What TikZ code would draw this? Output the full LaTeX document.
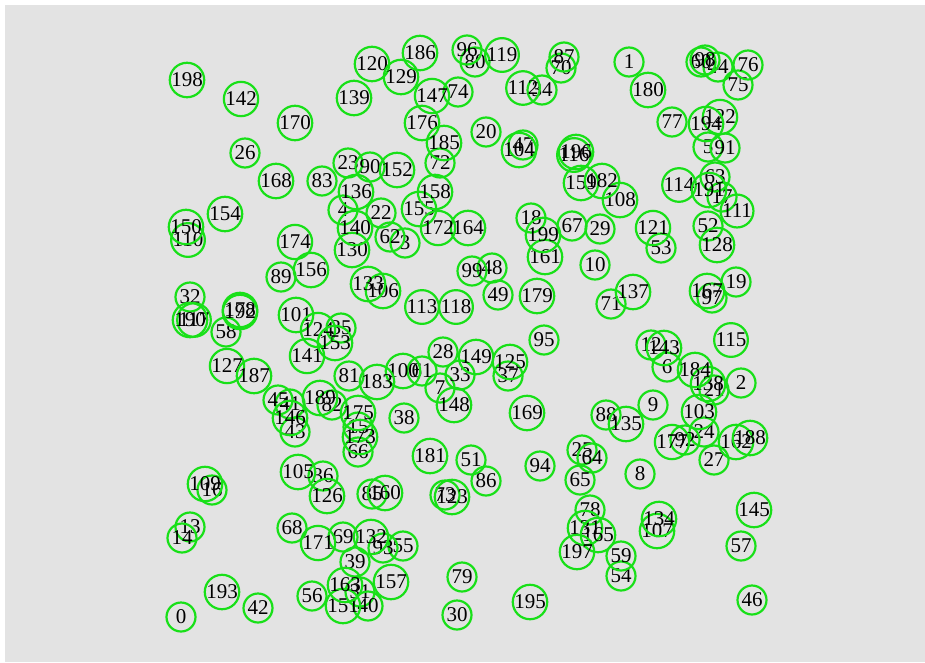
\documentclass[tikz,border=0pt]{standalone}
\usepackage{fontspec}
\setmainfont{Liberation Serif}
\definecolor{nodegreen}{HTML}{18E018}
\definecolor{panelgray}{HTML}{E3E3E3}
\tikzset{
  vertex/.style={
    circle,
    draw=nodegreen,
    line width=2.2pt,
    minimum size=29pt,
    inner sep=0pt,
    font=\fontsize{21}{21}\selectfont
  }
}
\begin{document}
\begin{tikzpicture}[x=1pt,y=-1pt]
\useasboundingbox (0,0) rectangle (925,662);
\fill[white] (0,0) rectangle (925,662);
\fill[panelgray] (5,5) rectangle (925,662);
% scattered vertices, label/x/y
\foreach \lab/\px/\py in {
  0/181/617, 1/629/62, 2/741/383, 3/405/243, 4/343/210, 5/708/147,
  6/667/367, 7/440/388, 8/640/474, 9/653/405, 10/595/265, 12/651/345,
  13/190/527, 14/182/538, 15/358/427, 16/212/490, 17/722/197, 18/531/218,
  19/736/282, 20/486/132, 21/714/390, 22/381/213, 23/348/163, 24/704/432,
  25/582/450, 26/245/153, 27/714/460, 28/443/352, 29/600/229, 30/457/615,
  31/360/592, 32/190/297, 33/460/375, 34/542/90, 35/341/328, 36/323/476,
  37/508/376, 38/404/418, 39/355/562, 40/368/606, 41/290/404, 42/258/608,
  43/295/432, 44/718/67, 45/278/400, 46/752/600, 47/523/145, 48/492/268,
  49/498/295, 51/471/460, 52/708/226, 53/661/248, 54/621/576, 55/403/546,
  56/312/596, 57/741/546, 58/226/332, 59/621/556, 60/701/62, 61/422/371,
  62/390/237, 63/715/177, 64/592/458, 65/580/480, 66/358/452, 67/572/226,
  68/292/528, 69/343/537, 70/561/68, 71/611/304, 72/440/163, 73/445/495,
  74/458/92, 75/738/85, 76/748/65, 77/672/122, 78/590/510, 79/462/577,
  80/475/62, 81/349/376, 82/332/405, 83/322/181, 85/372/494, 86/486/481,
  87/564/57, 88/606/415, 89/281/277, 90/370/167, 91/725/148, 92/685/440,
  93/383/548, 94/540/466, 95/544/340, 96/467/50, 97/712/298, 98/705/60,
  99/472/271, 100/403/371, 101/296/315, 103/699/412, 104/519/150,
  105/298/472, 106/383/291, 107/657/531, 108/620/200, 109/205/484,
  110/188/240, 111/737/211, 112/523/88, 113/422/307, 114/679/185,
  115/731/340, 116/574/155, 117/194/320, 118/456/307, 119/502/55,
  120/372/64, 121/653/228, 122/720/117, 123/452/497, 124/318/330,
  125/510/362, 126/327/496, 127/227/366, 128/717/245, 129/401/77,
  130/352/250, 131/585/528, 132/371/537, 133/368/284, 134/659/519,
  135/626/424, 136/356/192, 137/633/292, 138/708/384, 139/354/98,
  140/355/228, 141/307/356, 142/241/99, 143/664/348, 145/754/510,
  146/290/418, 147/432/96, 148/454/405, 149/476/357, 150/186/227,
  151/343/606, 152/397/170, 153/335/343, 154/225/214, 155/419/209,
  156/311/270, 157/391/582, 158/435/192, 159/581/183, 160/385/493,
  161/545/257, 162/736/442, 163/345/585, 164/468/228, 165/598/535,
  167/707/291, 168/276/181, 169/527/413, 170/295/123, 171/318/543,
  172/438/228, 173/360/437, 174/295/242, 175/358/413, 176/422/123,
  177/672/442, 178/240/310, 179/537/296, 180/648/90, 181/430/456,
  182/602/181, 183/377/382, 184/695/370, 185/444/143, 186/420/53,
  187/254/376, 188/750/438, 189/320/398, 190/190/320, 191/709/190,
  192/240/312, 193/222/592, 194/706/124, 195/530/602, 196/576/152,
  197/577/552, 198/187/80, 199/543/235}
  \node[vertex] (n\lab) at (\px,\py) {\lab};
\end{tikzpicture}
\end{document}
